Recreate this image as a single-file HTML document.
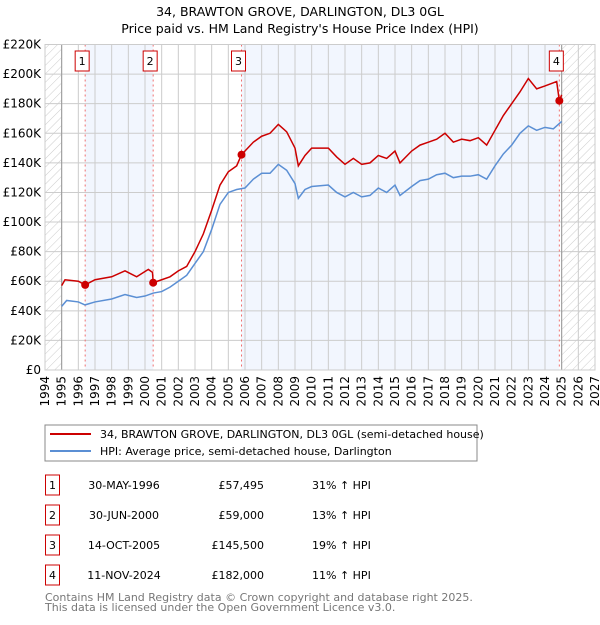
<!DOCTYPE html>
<html><head><meta charset="utf-8"><style>
body{margin:0;background:#fff;font-family:"Liberation Sans","DejaVu Sans",sans-serif;}
svg text{font-family:"DejaVu Sans","Liberation Sans",sans-serif;}
</style></head><body>
<svg id="c" width="600" height="620" xmlns="http://www.w3.org/2000/svg">
<defs><pattern id="h" width="6" height="6" patternUnits="userSpaceOnUse" patternTransform="rotate(45)"><line x1="0" y1="0" x2="0" y2="6" stroke="#ccc" stroke-width="1"/></pattern></defs>
<text x="300" y="16" text-anchor="middle" font-size="12.5">34, BRAWTON GROVE, DARLINGTON, DL3 0GL</text>
<text x="300" y="33" text-anchor="middle" font-size="12.5">Price paid vs. HM Land Registry's House Price Index (HPI)</text>
<g id="plot"></g>
<rect x="45" y="425" width="432" height="36" fill="#fff" stroke="#888"/>
<line x1="50" y1="434" x2="91" y2="434" stroke="#cc0000" stroke-width="2"/>
<text x="100" y="438" font-size="11">34, BRAWTON GROVE, DARLINGTON, DL3 0GL (semi-detached house)</text>
<line x1="50" y1="451" x2="91" y2="451" stroke="#5b8fd4" stroke-width="2"/>
<text x="100" y="455" font-size="11">HPI: Average price, semi-detached house, Darlington</text>
<g id="tbl" font-size="11"></g>
<text x="45" y="601" font-size="11" fill="#777">Contains HM Land Registry data © Crown copyright and database right 2025.</text>
<text x="45" y="611" font-size="11" fill="#777">This data is licensed under the Open Government Licence v3.0.</text>
</svg>
<script>
const hpiYears=[1995,1995.3,1996,1996.4,1997,1998,1998.8,1999.5,2000,2000.5,2001,2001.5,2002,2002.5,2003,2003.5,2004,2004.5,2005,2005.5,2006,2006.5,2007,2007.5,2008,2008.5,2009,2009.2,2009.6,2010,2011,2011.5,2012,2012.5,2013,2013.5,2014,2014.5,2015,2015.3,2016,2016.5,2017,2017.5,2018,2018.5,2019,2019.5,2020,2020.5,2021,2021.5,2022,2022.5,2023,2023.5,2024,2024.5,2025];
const hpiValues=[43,47,46,44,46,48,51,49,50,52,53,56,60,64,72,80,95,112,120,122,123,129,133,133,139,135,126,116,122,124,125,120,117,120,117,118,123,120,125,118,124,128,129,132,133,130,131,131,132,129,138,146,152,160,165,162,164,163,168];
const priceYears=[1995,1995.2,1996,1996.41,1997,1998,1998.8,1999.5,2000.2,2000.45,2000.49,2001,2001.5,2002,2002.5,2003,2003.5,2004,2004.5,2005,2005.5,2005.79,2006,2006.5,2007,2007.5,2008,2008.5,2009,2009.2,2009.6,2010,2011,2011.5,2012,2012.5,2013,2013.5,2014,2014.5,2015,2015.3,2016,2016.5,2017,2017.5,2018,2018.5,2019,2019.5,2020,2020.5,2021,2021.5,2022,2022.5,2023,2023.5,2024,2024.7,2024.86,2025];
const priceValues=[57,61,60,57.5,61,63,67,63,68,66,59,61,63,67,70,80,92,108,125,134,138,145.5,148,154,158,160,166,161,150,138,145,150,150,144,139,143,139,140,145,143,148,140,148,152,154,156,160,154,156,155,157,152,162,172,180,188,197,190,192,195,182,186];
const saleYears=[1996.41,2000.49,2005.79,2024.86];
const saleValues=[57.495,59,145.5,182];
const saleLabels=["1","2","3","4"];
const saleDates=["30-MAY-1996","30-JUN-2000","14-OCT-2005","11-NOV-2024"];
const salePrices=["£57,495","£59,000","£145,500","£182,000"];
const saleDiffs=["31% ↑ HPI","13% ↑ HPI","19% ↑ HPI","11% ↑ HPI"];
const yTicks=[0,20,40,60,80,100,120,140,160,180,200,220];
const xTicks=[1994,1995,1996,1997,1998,1999,2000,2001,2002,2003,2004,2005,2006,2007,2008,2009,2010,2011,2012,2013,2014,2015,2016,2017,2018,2019,2020,2021,2022,2023,2024,2025,2026,2027];

const NS="http://www.w3.org/2000/svg";
const X0=45,X1=595,Y0=370,Y1=44.5;
const x=t=>X0+(t-1994)/(2027-1994)*(X1-X0);
const y=v=>Y0-v/220*(Y0-Y1);
const g=document.getElementById('plot');
function mk(tag,a,parent){const e=document.createElementNS(NS,tag);for(const k in a)e.setAttribute(k,a[k]);(parent||g).appendChild(e);return e;}

let e;
e=mk('rect',{x:X0,y:Y1,width:X1-X0,height:Y0-Y1,fill:'#fff'});


[[0,1],[2,3]].forEach((p,i)=>{
 e=mk('rect',{x:x(saleYears[p[0]]),y:Y1,width:x(saleYears[p[1]])-x(saleYears[p[0]]),height:Y0-Y1,fill:'#eef3fd',opacity:0.75});
 
 
});
e=mk('rect',{x:x(1994),y:Y1,width:x(1995)-x(1994),height:Y0-Y1,fill:'url(#h)'});


e=mk('rect',{x:x(2025),y:Y1,width:x(2027)-x(2025),height:Y0-Y1,fill:'url(#h)'});


yTicks.forEach(v=>{
 e=mk('line',{x1:X0,x2:X1,y1:y(v),y2:y(v),stroke:'#ccc'});
 
 
 e=mk('text',{x:X0-4,y:y(v)+4,'text-anchor':'end','font-size':12});
 e.textContent=v===0?'£0':'£'+v+'K';
 
 
});
xTicks.forEach(t=>{
 e=mk('line',{x1:x(t),x2:x(t),y1:Y1,y2:Y0,stroke:'#ccc'});
 
 
 e=mk('text',{x:0,y:0,'font-size':12,'text-anchor':'end',transform:`translate(${x(t)+4},${Y0+6}) rotate(-90)`});
 e.textContent=t;
 
 
});
e=mk('line',{x1:x(1995),x2:x(1995),y1:Y1,y2:Y0,stroke:'#999'});


e=mk('line',{x1:x(2025),x2:x(2025),y1:Y1,y2:Y0,stroke:'#999'});


saleYears.forEach((t,i)=>{
 e=mk('line',{x1:x(t),x2:x(t),y1:Y1,y2:Y0,stroke:'#f07070','stroke-dasharray':'2,3'});
 
 
});
e=mk('polyline',{points:hpiYears.map((t,i)=>x(t)+','+y(hpiValues[i])).join(' '),fill:'none',stroke:'#5b8fd4','stroke-width':1.5});


e=mk('polyline',{points:priceYears.map((t,i)=>x(t)+','+y(priceValues[i])).join(' '),fill:'none',stroke:'#cc0000','stroke-width':1.5});


saleYears.forEach((t,i)=>{
 e=mk('circle',{cx:x(t),cy:y(saleValues[i]),r:4,fill:'#cc0000'});
 
 
 const bx=x(t)-3;
 e=mk('rect',{x:bx-7,y:51,width:14,height:20,fill:'#fff',stroke:'#cc0000'});
 
 
 e=mk('text',{x:bx,y:65,'text-anchor':'middle','font-size':11});
 e.textContent=saleLabels[i];
 
 
});
e=mk('rect',{x:X0,y:Y1,width:X1-X0,height:Y0-Y1,fill:'none',stroke:'#ccc'});



const tb=document.getElementById('tbl');
saleLabels.forEach((l,i)=>{
 const ty=485+i*30;
 e=mk('rect',{x:45.5,y:ty-10,width:14,height:20,fill:'#fff',stroke:'#cc0000'},tb);
 
 
 e=mk('text',{x:52.5,y:ty+4,'text-anchor':'middle'},tb);e.textContent=l;
 
 
 e=mk('text',{x:124,y:ty+4,'text-anchor':'middle'},tb);e.textContent=saleDates[i];
 
 
 e=mk('text',{x:264,y:ty+4,'text-anchor':'end'},tb);e.textContent=salePrices[i];
 
 
 e=mk('text',{x:312,y:ty+4},tb);e.textContent=saleDiffs[i];
 
 
});
</script>
</body></html>
